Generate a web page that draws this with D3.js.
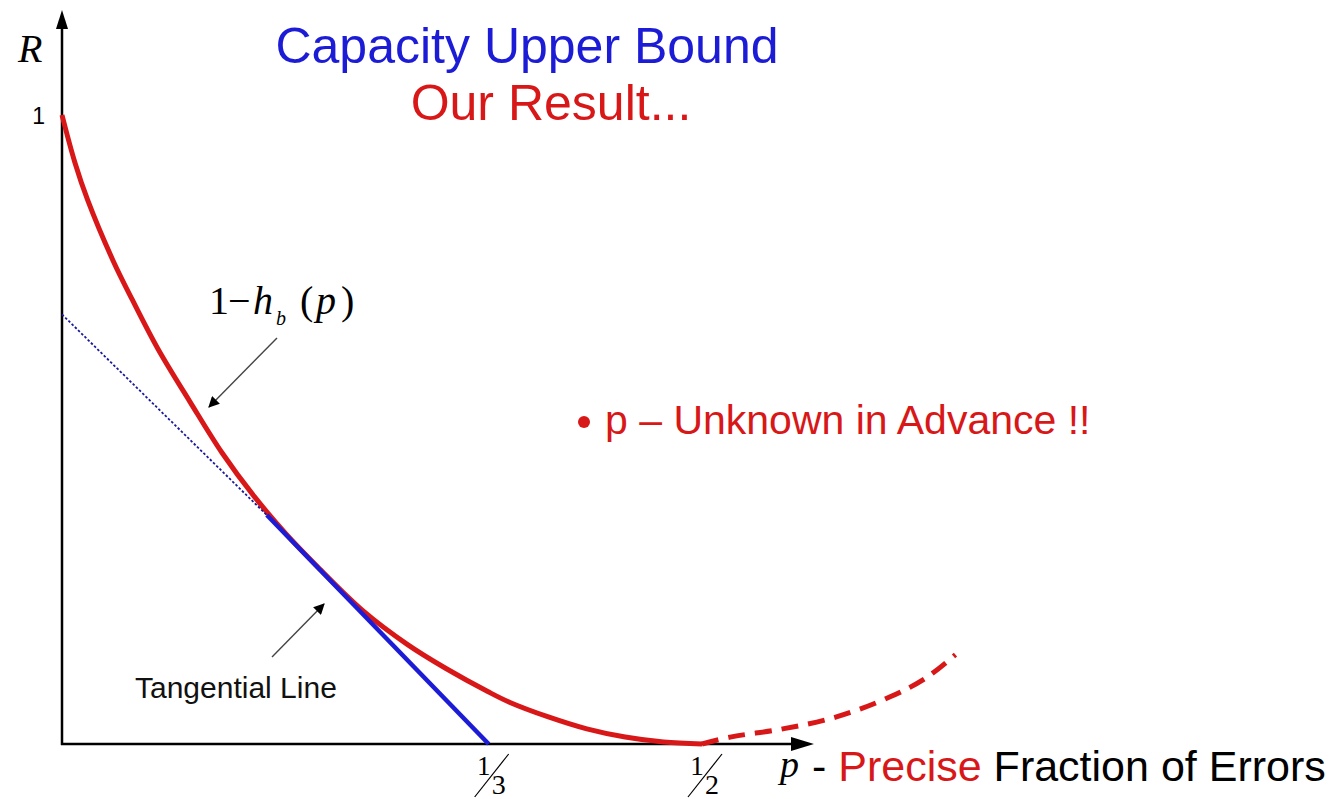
<!DOCTYPE html>
<html>
<head>
<meta charset="utf-8">
<script src="https://cdn.jsdelivr.net/npm/d3@7"></script>
<style>
  body { margin: 0; background: #fff; }
  svg { display: block; }
</style>
</head>
<body>
<script>
// Values.
// Solid red curve, 1 - h_b(p), for p in [0, 1/2].
var pSolid = [0, 0.01, 0.02, 0.04, 0.055, 0.075, 0.1, 0.125, 0.15, 0.175, 0.2, 0.235, 0.27, 0.3, 0.333, 0.35, 0.38, 0.41, 0.44, 0.47, 0.5];
var rSolid = [1, 0.925, 0.865, 0.768, 0.706, 0.628, 0.544, 0.463, 0.394, 0.334, 0.281, 0.212, 0.158, 0.12, 0.083, 0.066, 0.043, 0.024, 0.011, 0.003, 0];

// Dashed red continuation beyond p = 1/2.
var pDash = [0.5, 0.522, 0.563, 0.605, 0.647, 0.675, 0.698];
var rDash = [0, 0.011, 0.024, 0.043, 0.075, 0.105, 0.142];

// Tangential line: dotted part then solid part.
var pTangent = [0, 0.16, 1 / 3];
var rTangent = [0.683, 0.364, 0];

// Tick labels.
var yTicks = [1];
var xTicks = [1 / 3, 1 / 2];
var xTickNum = ["1", "1"];
var xTickDen = ["3", "2"];

var W = 1330, H = 799;
var red = "#d81818", blue = "#1c1cd6";
var sans = "'Liberation Sans', Arial, sans-serif";
var serif = "'Liberation Serif', 'Times New Roman', serif";

var xScale = d3.scaleLinear().domain([0, 0.5]).range([62, 702]);
var yScale = d3.scaleLinear().domain([0, 1]).range([744, 115]);

var svg = d3.select("body").append("svg")
            .attr("width", W)
            .attr("height", H);

var defs = svg.append("defs");
defs.append("marker")
    .attr("id", "head")
    .attr("viewBox", "0 0 10 10")
    .attr("refX", 9).attr("refY", 5)
    .attr("markerWidth", 16).attr("markerHeight", 11)
    .attr("markerUnits", "userSpaceOnUse")
    .attr("orient", "auto")
    .append("path")
    .attr("d", "M0,0 L10,5 L0,10 Z")
    .attr("fill", "#000");

var line = d3.line()
             .x(function (d) { return xScale(d[0]); })
             .y(function (d) { return yScale(d[1]); })
             .curve(d3.curveCatmullRom.alpha(0.5));

var solid = d3.zip(pSolid, rSolid);
var dashed = d3.zip(pDash, rDash);

// Axes as plain arrows.
var x0 = xScale(0), y0 = yScale(0);
svg.append("line")
   .attr("x1", x0).attr("y1", y0 + 1)
   .attr("x2", x0).attr("y2", 24)
   .attr("stroke", "#000").attr("stroke-width", 2.5);
svg.append("path")
   .attr("d", "M" + x0 + ",10 L" + (x0 - 6) + ",29 L" + (x0 + 6) + ",29 Z")
   .attr("fill", "#000");

svg.append("line")
   .attr("x1", x0 - 1).attr("y1", y0)
   .attr("x2", 795).attr("y2", y0)
   .attr("stroke", "#000").attr("stroke-width", 2.5);
svg.append("path")
   .attr("d", "M814," + y0 + " L791," + (y0 - 7) + " L791," + (y0 + 7) + " Z")
   .attr("fill", "#000");

// Red curve, then dashed continuation.
svg.append("path")
   .attr("d", line(solid))
   .attr("fill", "none")
   .attr("stroke", red)
   .attr("stroke-width", 5);

svg.append("path")
   .attr("d", line(dashed))
   .attr("fill", "none")
   .attr("stroke", red)
   .attr("stroke-width", 5)
   .attr("stroke-dasharray", "17,10");

// Tangential line: thin dotted before the touch point, thick after.
var straight = d3.line()
                 .x(function (d) { return xScale(d[0]); })
                 .y(function (d) { return yScale(d[1]); });
svg.append("path")
   .attr("d", straight([[pTangent[0], rTangent[0]], [pTangent[1], rTangent[1]]]))
   .attr("fill", "none")
   .attr("stroke", "#1a1a9a")
   .attr("stroke-width", 1.8)
   .attr("stroke-dasharray", "2.5,2");
svg.append("path")
   .attr("d", straight([[pTangent[1], rTangent[1]], [pTangent[2], rTangent[2]]]))
   .attr("fill", "none")
   .attr("stroke", blue)
   .attr("stroke-width", 4.5);

// Axis labels.
svg.append("text")
   .attr("x", 18).attr("y", 62)
   .style("font-family", serif)
   .style("font-style", "italic")
   .style("font-size", "40px")
   .text("R");

svg.selectAll(".ytick")
   .data(yTicks)
   .enter().append("text")
   .attr("class", "ytick")
   .attr("x", 45).attr("y", function (d) { return yScale(d) + 9; })
   .attr("text-anchor", "end")
   .style("font-family", sans)
   .style("font-size", "23px")
   .text(function (d) { return d; });

// Fraction tick labels under the x axis.
var ticks = svg.selectAll(".xtick")
               .data(xTicks)
               .enter().append("g")
               .attr("class", "xtick")
               .attr("transform", function (d) { return "translate(" + xScale(d) + ",0)"; });
ticks.append("text")
     .attr("x", -5).attr("y", 775)
     .attr("text-anchor", "middle")
     .style("font-family", serif).style("font-size", "27px")
     .text(function (d, i) { return xTickNum[i]; });
ticks.append("line")
     .attr("x1", 20).attr("y1", 754)
     .attr("x2", -14).attr("y2", 797)
     .attr("stroke", "#000").attr("stroke-width", 1.2);
ticks.append("text")
     .attr("x", 10).attr("y", 794)
     .attr("text-anchor", "middle")
     .style("font-family", serif).style("font-size", "28px")
     .text(function (d, i) { return xTickDen[i]; });

svg.append("text")
   .attr("x", 780).attr("y", 777)
   .style("font-family", serif)
   .style("font-style", "italic")
   .style("font-size", "38px")
   .text("p");

var caption = svg.append("text")
                 .attr("x", 812).attr("y", 781)
                 .style("font-family", sans)
                 .style("font-size", "43px");
caption.append("tspan").attr("fill", "#000").text("- ");
caption.append("tspan").attr("fill", red).text("Precise");
caption.append("tspan").attr("fill", "#000").text(" Fraction of Errors");

// Titles.
svg.append("text")
   .attr("x", 527).attr("y", 63)
   .attr("text-anchor", "middle")
   .attr("fill", blue)
   .style("font-family", sans)
   .style("font-size", "50px")
   .text("Capacity Upper Bound");
svg.append("text")
   .attr("x", 551).attr("y", 120)
   .attr("text-anchor", "middle")
   .attr("fill", red)
   .style("font-family", sans)
   .style("font-size", "50px")
   .text("Our Result...");

// Formula label and its arrow.
var formula = svg.append("g")
                 .style("font-family", serif)
                 .style("font-size", "40px");
formula.append("text").attr("x", 209).attr("y", 314).text("1");
formula.append("text").attr("x", 228).attr("y", 314).text("\u2212");
formula.append("text").attr("x", 253).attr("y", 314).style("font-style", "italic").text("h");
formula.append("text").attr("x", 276).attr("y", 325).style("font-style", "italic").style("font-size", "20px").text("b");
formula.append("text").attr("x", 300).attr("y", 314).text("(");
formula.append("text").attr("x", 316).attr("y", 314).style("font-style", "italic").text("p");
formula.append("text").attr("x", 341).attr("y", 314).text(")");

svg.append("line")
   .attr("x1", 277).attr("y1", 338)
   .attr("x2", 209).attr("y2", 407)
   .attr("stroke", "#444").attr("stroke-width", 1.4)
   .attr("marker-end", "url(#head)");

// Tangential line label and its arrow.
svg.append("text")
   .attr("x", 135).attr("y", 698)
   .style("font-family", sans)
   .style("font-size", "30px")
   .attr("fill", "#111")
   .text("Tangential Line");

svg.append("line")
   .attr("x1", 272).attr("y1", 657)
   .attr("x2", 324).attr("y2", 604)
   .attr("stroke", "#444").attr("stroke-width", 1.4)
   .attr("marker-end", "url(#head)");

// Bullet note.
svg.append("circle")
   .attr("cx", 584).attr("cy", 422).attr("r", 6)
   .attr("fill", red);
svg.append("text")
   .attr("x", 605).attr("y", 434)
   .attr("fill", red)
   .style("font-family", sans)
   .style("font-size", "41px")
   .text("p \u2013 Unknown in Advance !!");
</script>
</body>
</html>
